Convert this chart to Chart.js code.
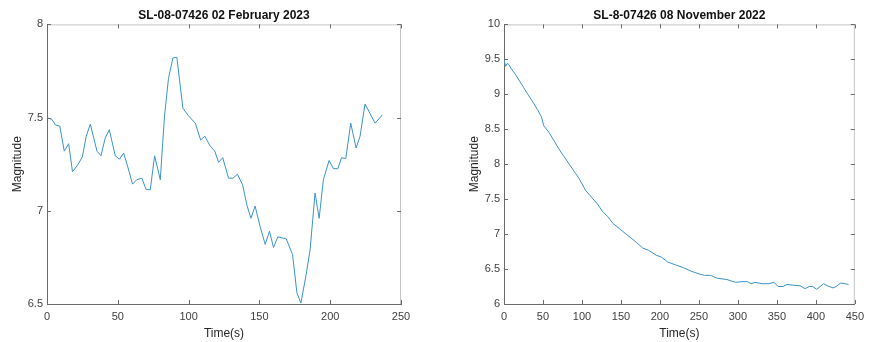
<!DOCTYPE html>
<html>
<head>
<meta charset="utf-8">
<script src="https://cdn.jsdelivr.net/npm/chart.js@4.4.1/dist/chart.umd.min.js"></script>
<style>
    body { margin: 0; background: #fff; }
    .panel { position: absolute; top: 0; width: 435px; height: 342px; }
</style>
</head>
<body>
<div class="panel" style="left:0"><canvas id="leftChart" width="435" height="342"></canvas></div>
<div class="panel" style="left:435px"><canvas id="rightChart" width="435" height="342"></canvas></div>
<script>
// SL-08-07426, 02 February 2023
const leftTime = [0, 3.5, 6, 9, 12.2, 15.3, 18, 21.6, 25, 27.7, 30.6, 35.3, 38.1, 41.1, 44, 48.2, 51.2, 54.1,
    56.9, 60.4, 63.5, 67, 69.9, 72.9, 76, 80, 83, 85.8, 88.9, 91.7, 96, 99.9, 104.7, 108.5, 111.5, 115,
    118.5, 121.2, 124.1, 128.2, 131.3, 134.5, 138.1, 141.2, 144, 147, 150.5, 154.1, 157.1, 160, 163,
    165.9, 168.9, 173.4, 176.5, 179.3, 183, 185.8, 189.3, 192.2, 195.2, 199.2, 202.3, 205.4, 208, 211,
    214.5, 218.3, 221.1, 224.6, 231.7, 236.9];
const leftMag = [7.50, 7.49, 7.46, 7.455, 7.32, 7.36, 7.21, 7.245, 7.29, 7.40, 7.465, 7.32, 7.295, 7.39, 7.435, 7.295, 7.277, 7.31,
    7.24, 7.143, 7.167, 7.175, 7.116, 7.112, 7.295, 7.167, 7.51, 7.71, 7.82, 7.823, 7.55, 7.51, 7.47, 7.38, 7.40, 7.35,
    7.32, 7.26, 7.285, 7.175, 7.175, 7.196, 7.14, 7.03, 6.96, 7.025, 6.915, 6.82, 6.89, 6.803, 6.86,
    6.855, 6.85, 6.765, 6.56, 6.505, 6.657, 6.79, 7.095, 6.96, 7.167, 7.27, 7.226, 7.226, 7.285, 7.28,
    7.47, 7.337, 7.40, 7.573, 7.47, 7.515];
const leftXTicks = [0, 50, 100, 150, 200, 250];
const leftYTicks = [6.5, 7, 7.5, 8];

// SL-8-07426, 08 November 2022
const rightTime = [0, 2, 4, 6, 9, 15, 20, 25, 30, 37, 43, 48, 51, 58, 65, 72, 80, 88, 96, 105, 112, 120,
    126, 133, 140, 150, 160, 170, 178, 185, 195, 202, 210, 220, 230, 240, 250, 257, 265, 273, 286, 297,
    305, 312, 317, 322, 331, 340, 346, 352, 358, 363, 370, 380, 386, 392, 396, 401, 410, 415, 422, 426,
    432, 437, 442];
const rightMag = [9.50, 9.40, 9.44, 9.43, 9.37, 9.28, 9.19, 9.10, 9.01, 8.89, 8.78, 8.68, 8.55, 8.45, 8.32, 8.19, 8.06, 7.93, 7.80, 7.62, 7.53, 7.43,
    7.33, 7.25, 7.15, 7.06, 6.97, 6.88, 6.80, 6.77, 6.70, 6.67, 6.60, 6.56, 6.52, 6.47, 6.43, 6.41, 6.41, 6.37, 6.35, 6.31,
    6.32, 6.32, 6.29, 6.31, 6.29, 6.29, 6.31, 6.25, 6.25, 6.28, 6.27, 6.26, 6.22, 6.25, 6.25, 6.21, 6.29, 6.26, 6.23, 6.25,
    6.30, 6.29, 6.28];
const rightXTicks = [0, 50, 100, 150, 200, 250, 300, 350, 400, 450];
const rightYTicks = [6, 6.5, 7, 7.5, 8, 8.5, 9, 9.5, 10];

const fontFamily = "'Liberation Sans', Arial, sans-serif";

// matlab-like box: light top/right edges and short inward ticks on all sides
const boxPlugin = {
    id: 'box',
    afterDatasetsDraw(chart) {
        const {ctx, chartArea: a, scales} = chart;
        ctx.save();
        ctx.lineWidth = 1;
        ctx.strokeStyle = '#c4c4c4';
        ctx.beginPath();
        ctx.moveTo(a.left, a.top + 0.5);
        ctx.lineTo(a.right, a.top + 0.5);
        ctx.moveTo(a.right - 0.5, a.top);
        ctx.lineTo(a.right - 0.5, a.bottom);
        ctx.stroke();
        ctx.strokeStyle = '#6a6a6a';
        ctx.beginPath();
        scales.x.ticks.forEach(t => {
            const px = Math.round(scales.x.getPixelForValue(t.value)) + 0.5;
            ctx.moveTo(px, a.bottom);
            ctx.lineTo(px, a.bottom - 4);
            ctx.moveTo(px, a.top);
            ctx.lineTo(px, a.top + 4);
        });
        scales.y.ticks.forEach(t => {
            const py = Math.round(scales.y.getPixelForValue(t.value)) + 0.5;
            ctx.moveTo(a.left, py);
            ctx.lineTo(a.left + 4, py);
            ctx.moveTo(a.right, py);
            ctx.lineTo(a.right - 4, py);
        });
        ctx.stroke();
        ctx.restore();
    }
};

function makeChart(id, title, times, mags, xTicks, yTicks, padLeft, padRight) {
    const ctx = document.getElementById(id).getContext('2d');
    return new Chart(ctx, {
        type: 'line',
        data: {
            datasets: [{
                data: times.map((t, i) => ({ x: t, y: mags[i] })),
                borderColor: '#3b93c7',
                borderWidth: 1,
                pointRadius: 0,
                tension: 0,
                fill: false
            }]
        },
        options: {
            responsive: false,
            animation: false,
            layout: { padding: { left: padLeft, right: padRight, top: 0, bottom: 0 } },
            plugins: {
                legend: { display: false },
                tooltip: { enabled: false },
                title: {
                    display: true,
                    text: title,
                    fullSize: false,
                    color: '#111',
                    font: { family: fontFamily, size: 12, weight: 'bold' },
                    padding: { top: 8, bottom: 2 }
                }
            },
            scales: {
                x: {
                    type: 'linear',
                    min: xTicks[0],
                    max: xTicks[xTicks.length - 1],
                    afterBuildTicks: s => { s.ticks = xTicks.map(v => ({ value: v })); },
                    afterFit: s => { s.height = 38; },
                    grid: { display: false, drawTicks: false },
                    border: { display: true, color: '#6a6a6a', width: 1 },
                    ticks: {
                        autoSkip: false,
                        maxRotation: 0,
                        padding: 6,
                        color: '#404040',
                        font: { family: fontFamily, size: 11 },
                        callback: v => String(v)
                    },
                    title: {
                        display: true,
                        text: 'Time(s)',
                        color: '#262626',
                        font: { family: fontFamily, size: 12 },
                        padding: { top: 0, bottom: 1.5 }
                    }
                },
                y: {
                    min: yTicks[0],
                    max: yTicks[yTicks.length - 1],
                    afterBuildTicks: s => { s.ticks = yTicks.map(v => ({ value: v })); },
                    afterFit: s => { s.width = 47; },
                    grid: { display: false, drawTicks: false },
                    border: { display: true, color: '#6a6a6a', width: 1 },
                    ticks: {
                        autoSkip: false,
                        padding: 4,
                        color: '#404040',
                        font: { family: fontFamily, size: 11 },
                        callback: v => String(v)
                    },
                    title: {
                        display: true,
                        text: 'Magnitude',
                        color: '#262626',
                        font: { family: fontFamily, size: 12 },
                        padding: { top: 10, bottom: 0 }
                    }
                }
            }
        },
        plugins: [boxPlugin]
    });
}

makeChart('leftChart', 'SL-08-07426 02 February 2023', leftTime, leftMag, leftXTicks, leftYTicks, 0, 34);
makeChart('rightChart', 'SL-8-07426 08 November 2022', rightTime, rightMag, rightXTicks, rightYTicks, 22, 11);
</script>
</body>
</html>
